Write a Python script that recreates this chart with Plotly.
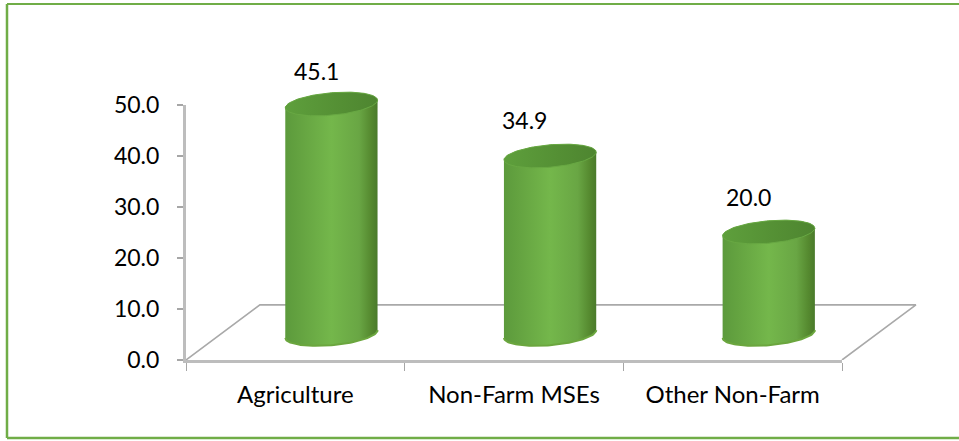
import numpy as np
import plotly.graph_objects as go

categories = ["Agriculture", "Non-Farm MSEs", "Other Non-Farm"]
values = [45.1, 34.9, 20.0]
value_labels = ["45.1", "34.9", "20.0"]
y_ticks = [0, 10, 20, 30, 40, 50]

# 3-D look (axis units)
DEPTH_X = 0.338
DEPTH_Y = 10.8
BAR_OFFSET_X = 0.165
BAR_BASE = 5.1
HALF_W = 0.211
CAP_H = 2.2
CAP_TILT = 0.75
LABEL_SHIFT_X = [-15, -26, -20]
LABEL_SHIFT_Y = [33, 36, 35]

# Geometry in pixels of the drawing area and of the visible axes
L, T, R, B = 186, 50, 20, 81
W, H = 959, 441
PW, PH = W - L - R, H - T - B
AXW, AXH = 656, 255

FONT = "Lato"
BODY = [[0, "#5C9A3C"], [0.18, "#65A441"], [0.5, "#74B74B"], [0.8, "#69A644"],
        [0.93, "#55892F"], [1, "#4A7A2B"]]
TOP = [[0, "#5E9F3C"], [0.6, "#548F34"], [1, "#4E8530"]]

t = np.linspace(0, 2 * np.pi, 121)


def ellipse(cx, cy, angles):
    return (cx + HALF_W * np.cos(angles),
            cy + CAP_H * np.sin(angles) + CAP_TILT * np.cos(angles))


lo, hi = -0.5, len(categories) - 0.5
x_span = (hi - lo) * PW / AXW
y_span = 50 * PH / AXH

fig = go.Figure()

# holds the visible axes
fig.add_trace(go.Scatter(x=list(range(len(categories))), y=values, mode="markers",
                         marker=dict(opacity=0), xaxis="x", yaxis="y",
                         showlegend=False, hoverinfo="skip"))

# floor
fig.add_trace(go.Scatter(
    x=[lo, lo + DEPTH_X, hi + DEPTH_X, hi], y=[0, DEPTH_Y, DEPTH_Y, 0],
    mode="lines", line=dict(color="#A9A9A9", width=1.6),
    xaxis="x2", yaxis="y2", showlegend=False, hoverinfo="skip"))

for i, v in enumerate(values):
    cx = i + BAR_OFFSET_X
    top_y = BAR_BASE + v
    xt, yt = ellipse(cx, top_y, np.linspace(0, np.pi, 61))
    xb, yb = ellipse(cx, BAR_BASE, np.linspace(np.pi, 2 * np.pi, 61))
    fig.add_trace(go.Scatter(
        x=np.r_[xt, xb], y=np.r_[yt, yb], mode="lines", fill="toself",
        line=dict(width=0, color="rgba(0,0,0,0)"),
        fillgradient=dict(type="horizontal", colorscale=BODY),
        xaxis="x2", yaxis="y2", showlegend=False, hoverinfo="skip"))
    # slightly lighter rim along the bottom
    fig.add_trace(go.Scatter(
        x=xb, y=yb, mode="lines", line=dict(color="#6BA63E", width=2),
        xaxis="x2", yaxis="y2", showlegend=False, hoverinfo="skip"))
    xc, yc = ellipse(cx, top_y, t)
    fig.add_trace(go.Scatter(
        x=xc, y=yc, mode="lines", fill="toself",
        line=dict(width=1, color="#68A843"),
        fillgradient=dict(type="horizontal", colorscale=TOP),
        xaxis="x2", yaxis="y2", showlegend=False, hoverinfo="skip"))
    fig.add_annotation(x=cx, y=top_y, xref="x2", yref="y2", text=value_labels[i],
                       showarrow=False, xshift=LABEL_SHIFT_X[i], yshift=LABEL_SHIFT_Y[i],
                       font=dict(family=FONT, size=23, color="#000000"))

frame = "#70AD47"


def px(x):
    return (x - L) / PW


def py(y):
    return (H - B - y) / PH


def frame_line(x0, y0, x1, y1, w):
    return dict(type="line", xref="paper", yref="paper", x0=px(x0), x1=px(x1),
                y0=py(y0), y1=py(y1), line=dict(color=frame, width=w))


fig.update_layout(
    width=W, height=H,
    margin=dict(l=L, r=R, t=T, b=B),
    paper_bgcolor="white", plot_bgcolor="rgba(0,0,0,0)",
    font=dict(family=FONT, size=23, color="#000000"),
    showlegend=False,
    xaxis=dict(domain=[0, AXW / PW], range=[lo, hi], tickvals=list(range(len(categories))),
               ticktext=categories, tickfont=dict(size=24), ticks="", showgrid=False,
               zeroline=False, showline=True, linecolor="#BDBDBD", linewidth=3,
               minor=dict(tickvals=[lo, 0.5, 1.5, hi], ticks="outside",
                          ticklen=8, tickwidth=1, tickcolor="#A6A6A6", showgrid=False),
               ticklabelstandoff=11, anchor="y"),
    yaxis=dict(domain=[0, AXH / PH], range=[0, 50], tickvals=y_ticks, tickformat=".1f",
               ticks="outside", ticklen=6, tickwidth=1.5, tickcolor="#A6A6A6",
               showgrid=False, zeroline=False, showline=True, linecolor="#BDBDBD",
               linewidth=3, ticklabelstandoff=13, anchor="x"),
    xaxis2=dict(domain=[0, 1], range=[lo, lo + x_span], visible=False, anchor="y2"),
    yaxis2=dict(domain=[0, 1], range=[0, y_span], visible=False, anchor="x2"),
    shapes=[frame_line(7, 4, W + 2, 4, 2), frame_line(7, 438, W + 2, 438, 2.5),
            frame_line(7, 4, 7, 438, 2.5)],
)
fig.write_html("out.html", config=dict(displayModeBar=False),
               post_script="document.body.style.margin='0';")
